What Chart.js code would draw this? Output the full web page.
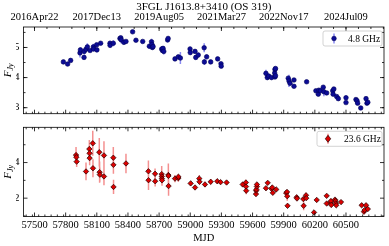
<!DOCTYPE html>
<html>
<head>
<meta charset="utf-8">
<script src="https://cdn.jsdelivr.net/npm/chart.js@4.4.1/dist/chart.umd.min.js"></script>
<style>
  html, body { margin: 0; padding: 0; background: #fff; }
  #wrap { position: relative; width: 389px; height: 246px; }
  #botChart { position: absolute; left: 0; top: 117px; }
  #topChart { position: absolute; left: 0; top: 0; }
</style>
</head>
<body>
<div id="wrap">
  <canvas id="botChart" width="389" height="129"></canvas>
  <canvas id="topChart" width="389" height="124"></canvas>
</div>
<script>
// 4.8 GHz light curve
const mjd48 = [57778, 57819, 57848, 57938, 57942, 57977, 57979, 57996, 58009, 58035,
  58067, 58069, 58099, 58101, 58137, 58227, 58228, 58259, 58323, 58331,
  58336, 58361, 58381, 58445, 58477, 58542, 58606, 58627, 58631, 58635,
  58642, 58725, 58732, 58738, 58745, 58782, 58787, 58853, 58885, 58905,
  58998, 59000, 59046, 59053, 59077, 59134, 59136, 59158, 59197, 59264,
  59296, 59298, 59729, 59742, 59756, 59783, 59813, 59816, 59821, 59816,
  59821, 59944, 59951, 59961, 59999, 59999, 60121, 60210, 60233, 60238,
  60254, 60281, 60287, 60314, 60372, 60376, 60383, 60410, 60426, 60500,
  60500, 60596, 60606, 60612, 60642, 60693, 60702, 60710];
const flux48 = [4.52, 4.45, 4.57, 4.82, 4.92, 4.67, 4.87, 4.94, 5.02, 4.90,
  5.02, 4.95, 5.09, 4.92, 5.14, 5.14, 5.07, 5.14, 5.30, 5.32,
  5.25, 5.17, 5.20, 5.52, 5.24, 5.20, 5.04, 5.19, 5.10, 5.00,
  5.03, 4.95, 4.90, 4.97, 4.87, 5.25, 5.30, 4.62, 4.69, 4.65,
  4.95, 4.83, 4.87, 4.67, 4.75, 4.99, 4.52, 4.69, 4.52, 4.62,
  4.46, 4.38, 4.14, 4.00, 4.05, 4.00, 4.15, 4.27, 4.30, 4.02,
  4.06, 3.98, 3.89, 3.81, 3.71, 3.92, 3.86, 3.56, 3.45, 3.58,
  3.56, 3.68, 3.53, 3.49, 3.56, 3.45, 3.62, 3.37, 3.30, 3.33,
  3.17, 3.27, 3.23, 3.15, 2.99, 3.30, 3.15, 3.18];
const err48 = [0.03, 0.03, 0.03, 0.15, 0.08, 0.06, 0.10, 0.08, 0.12, 0.05,
  0.10, 0.08, 0.06, 0.08, 0.05, 0.08, 0.06, 0.10, 0.08, 0.05,
  0.12, 0.06, 0.05, 0.03, 0.06, 0.06, 0.08, 0.10, 0.12, 0.08,
  0.06, 0.08, 0.06, 0.08, 0.10, 0.08, 0.08, 0.05, 0.06, 0.20,
  0.08, 0.06, 0.05, 0.08, 0.08, 0.15, 0.10, 0.08, 0.05, 0.05,
  0.05, 0.05, 0.12, 0.08, 0.06, 0.05, 0.08, 0.10, 0.05, 0.05,
  0.05, 0.08, 0.20, 0.08, 0.05, 0.05, 0.03, 0.05, 0.06, 0.05,
  0.05, 0.06, 0.15, 0.05, 0.08, 0.05, 0.06, 0.05, 0.05, 0.08,
  0.05, 0.05, 0.06, 0.05, 0.05, 0.05, 0.05, 0.05];

// 23.6 GHz light curve
const mjd236 = [57900, 57903, 57906, 57996, 58028, 58030, 58031, 58061, 58063, 58124,
  58127, 58129, 58169, 58169, 58259, 58260, 58261, 58381, 58597, 58598,
  58661, 58662, 58725, 58726, 58727, 58728, 58789, 58790, 58791, 58853,
  58885, 58886, 59004, 59046, 59087, 59089, 59142, 59197, 59260, 59292,
  59350, 59505, 59536, 59537, 59539, 59633, 59635, 59637, 59642, 59642,
  59729, 59746, 59783, 59790, 59795, 59828, 59924, 59932, 59934, 59937,
  60025, 60028, 60089, 60092, 60115, 60117, 60192, 60218, 60314, 60314,
  60352, 60355, 60358, 60394, 60399, 60402, 60406, 60452, 60651, 60693,
  60673, 60679, 60710];
const flux236 = [4.42, 4.30, 4.05, 3.50, 4.76, 4.52, 4.25, 5.08, 3.68, 4.58,
  3.46, 3.32, 4.40, 3.22, 4.27, 3.87, 2.63, 3.95, 3.51, 3.01,
  3.37, 2.95, 3.35, 3.22, 3.10, 3.00, 3.30, 3.25, 2.68, 3.10,
  3.12, 3.20, 2.83, 2.60, 3.10, 2.92, 2.77, 2.92, 2.95, 2.90,
  2.88, 2.77, 2.88, 2.65, 2.42, 2.23, 2.42, 2.49, 2.65, 2.77,
  2.56, 2.86, 2.53, 2.60, 2.30, 2.49, 2.29, 2.35, 2.11, 1.57,
  2.05, 1.98, 1.95, 1.57, 2.16, 2.00, 1.20, 1.90, 2.13, 1.70,
  1.76, 1.84, 1.62, 1.92, 1.84, 1.70, 1.60, 1.78, 1.60, 1.60,
  1.24, 1.33, 1.39];
const err236 = [0.45, 0.30, 0.30, 0.50, 0.50, 0.40, 0.40, 0.70, 0.50, 0.80,
  0.60, 0.40, 0.80, 0.50, 0.60, 0.50, 0.40, 0.55, 0.60, 0.55,
  0.30, 0.30, 0.45, 0.30, 0.30, 0.30, 0.65, 0.30, 0.55, 0.20,
  0.20, 0.15, 0.15, 0.12, 0.20, 0.15, 0.15, 0.15, 0.12, 0.12,
  0.10, 0.12, 0.15, 0.15, 0.20, 0.12, 0.10, 0.10, 0.12, 0.10,
  0.10, 0.08, 0.10, 0.10, 0.10, 0.10, 0.10, 0.08, 0.25, 0.10,
  0.08, 0.06, 0.08, 0.25, 0.15, 0.10, 0.08, 0.10, 0.08, 0.06,
  0.06, 0.06, 0.06, 0.06, 0.06, 0.06, 0.06, 0.06, 0.06, 0.06,
  0.06, 0.06, 0.05];

const mjdTicks = [57500, 57800, 58100, 58400, 58700, 59000, 59300, 59600, 59900, 60200, 60500];
const dateTicks = [57500, 58100, 58700, 59300, 59900, 60500];
const dateLabels = ['2016Apr22', '2017Dec13', '2019Aug05', '2021Mar27', '2022Nov17', '2024Jul09'];
const topFluxTicks = [3, 4, 5];
const botFluxTicks = [2, 4];

const X_MIN = 57394, X_MAX = 60866;
const serif = '"Liberation Serif", "DejaVu Serif", serif';

function range(a, b, step) {
  const out = [];
  for (let v = a; v <= b + 1e-9; v += step) out.push(Math.round(v * 100) / 100);
  return out;
}

const errorBars = {
  id: 'errorBars',
  beforeDatasetsDraw(chart) {
    const { ctx, chartArea: a, scales: { x, y } } = chart;
    ctx.save();
    ctx.beginPath();
    ctx.rect(a.left, a.top, a.right - a.left, a.bottom - a.top);
    ctx.clip();
    chart.data.datasets.forEach(ds => {
      ctx.strokeStyle = ds.errorColor;
      ctx.lineWidth = 1.5;
      ctx.beginPath();
      ds.data.forEach((pt, i) => {
        const px = x.getPixelForValue(pt.x);
        ctx.moveTo(px, y.getPixelForValue(pt.y - ds.errors[i]));
        ctx.lineTo(px, y.getPixelForValue(pt.y + ds.errors[i]));
      });
      ctx.stroke();
    });
    ctx.restore();
  }
};

// matplotlib-like frame with inward ticks
const axesFrame = {
  id: 'axesFrame',
  afterDatasetsDraw(chart, args, o) {
    const { ctx, chartArea: a, scales } = chart;
    const xs = scales.x, ys = scales.y;
    ctx.save();
    ctx.strokeStyle = '#000';
    ctx.lineWidth = 0.8;
    ctx.strokeRect(a.left, a.top, a.right - a.left, a.bottom - a.top);
    ctx.beginPath();
    const line = (x1, y1, x2, y2) => { ctx.moveTo(x1, y1); ctx.lineTo(x2, y2); };
    const inX = v => v > xs.min && v < xs.max;
    const inY = v => v > ys.min && v < ys.max;
    o.xBottom.major.filter(inX).forEach(v => { const p = xs.getPixelForValue(v); line(p, a.bottom, p, a.bottom - 4); });
    o.xBottom.minor.filter(inX).forEach(v => { const p = xs.getPixelForValue(v); line(p, a.bottom, p, a.bottom - 2); });
    o.xTop.major.filter(inX).forEach(v => { const p = xs.getPixelForValue(v); line(p, a.top, p, a.top + 4); });
    o.xTop.minor.filter(inX).forEach(v => { const p = xs.getPixelForValue(v); line(p, a.top, p, a.top + 2); });
    o.y.major.filter(inY).forEach(v => {
      const p = ys.getPixelForValue(v);
      line(a.left, p, a.left + 4, p); line(a.right, p, a.right - 4, p);
    });
    o.y.minor.filter(inY).forEach(v => {
      const p = ys.getPixelForValue(v);
      line(a.left, p, a.left + 2, p); line(a.right, p, a.right - 2, p);
    });
    ctx.stroke();
    ctx.restore();
  }
};

const yTitle = {
  id: 'yTitle',
  afterDraw(chart) {
    const { ctx, chartArea: a } = chart;
    ctx.save();
    ctx.translate(8, (a.top + a.bottom) / 2);
    ctx.rotate(-Math.PI / 2);
    ctx.fillStyle = '#000';
    ctx.textBaseline = 'middle';
    ctx.font = 'italic 11px ' + serif;
    const wF = ctx.measureText('F').width;
    ctx.font = 'italic 8px ' + serif;
    const wJ = ctx.measureText('Jy').width;
    const x0 = -(wF + wJ) / 2;
    ctx.font = 'italic 11px ' + serif;
    ctx.fillText('F', x0, 0);
    ctx.font = 'italic 8px ' + serif;
    ctx.fillText('Jy', x0 + wF, 3);
    ctx.restore();
  }
};

// title centred over the axes, like matplotlib's ax.set_title
const axesTitle = {
  id: 'axesTitle',
  afterDraw(chart, args, o) {
    const { ctx, chartArea: a } = chart;
    ctx.save();
    ctx.fillStyle = '#000';
    ctx.font = '11px ' + serif;
    ctx.textAlign = 'center';
    ctx.textBaseline = 'middle';
    ctx.fillText(o.text, (a.left + a.right) / 2, 7);
    ctx.restore();
  }
};

const boxLegend = {
  id: 'boxLegend',
  afterDraw(chart, args, o) {
    const { ctx, chartArea: a } = chart;
    const ds = chart.data.datasets[0];
    const w = o.width, h = 15;
    const left = a.right - 2 - w, top = a.top + 4;
    ctx.save();
    ctx.beginPath();
    ctx.roundRect(left, top, w, h, 2);
    ctx.fillStyle = 'rgba(255,255,255,0.8)';
    ctx.fill();
    ctx.strokeStyle = '#c8c8c8';
    ctx.lineWidth = 0.8;
    ctx.stroke();
    const mx = left + 11, my = top + h / 2;
    ctx.strokeStyle = ds.errorColor;
    ctx.lineWidth = 1.5;
    ctx.beginPath();
    ctx.moveTo(mx, my - 5); ctx.lineTo(mx, my + 5);
    ctx.stroke();
    ctx.fillStyle = ds.backgroundColor;
    ctx.strokeStyle = ds.borderColor;
    ctx.lineWidth = ds.borderWidth;
    ctx.beginPath();
    const r = ds.pointRadius;
    if (ds.pointStyle === 'rectRot') {
      ctx.moveTo(mx, my - r * 1.3); ctx.lineTo(mx + r, my); ctx.lineTo(mx, my + r * 1.3); ctx.lineTo(mx - r, my);
      ctx.closePath();
    } else {
      ctx.arc(mx, my, r, 0, Math.PI * 2);
    }
    ctx.fill();
    ctx.stroke();
    ctx.fillStyle = '#000';
    ctx.font = '9.5px ' + serif;
    ctx.textBaseline = 'middle';
    ctx.textAlign = 'left';
    ctx.fillText(ds.label, left + o.textOffset, my + 0.5);
    ctx.restore();
  }
};

function points(xs, ys) {
  return xs.map((v, i) => ({ x: v, y: ys[i] }));
}

const tickFont = { family: serif, size: 10.5 };
const xMinor = range(57360, 60900, 60);
const yAxisBase = {
  position: 'left',
  grid: { display: false, drawTicks: false },
  border: { display: false },
  ticks: { font: tickFont, color: '#000', padding: 4, callback: v => String(v) },
  afterFit: s => { s.width = 7.5; }
};

new Chart(document.getElementById('topChart'), {
  type: 'scatter',
  data: {
    datasets: [{
      label: '4.8 GHz',
      data: points(mjd48, flux48),
      errors: err48,
      errorColor: '#8a8af2',
      backgroundColor: '#0c0c96',
      borderColor: '#00005a',
      borderWidth: 0.6,
      pointRadius: 2.3,
      pointStyle: 'circle'
    }]
  },
  options: {
    responsive: false,
    animation: false,
    events: [],
    layout: { padding: { left: 16, right: 5, top: 0, bottom: 2 } },
    scales: {
      x: { type: 'linear', display: false, min: X_MIN, max: X_MAX },
      xTop: {
        type: 'linear', position: 'top', min: X_MIN, max: X_MAX,
        grid: { display: false, drawTicks: false },
        border: { display: false },
        afterBuildTicks: s => { s.ticks = dateTicks.map(v => ({ value: v })); },
        ticks: { font: tickFont, color: '#000', padding: 3, maxRotation: 0, minRotation: 0, autoSkip: false,
          callback: (v, i) => dateLabels[i] },
        afterFit: s => { s.height = 27; }
      },
      y: Object.assign({}, yAxisBase, {
        min: 2.8, max: 5.68,
        afterBuildTicks: s => { s.ticks = topFluxTicks.map(v => ({ value: v })); }
      })
    },
    plugins: {
      legend: { display: false },
      tooltip: { enabled: false },
      axesTitle: { text: '3FGL J1613.8+3410 (OS 319)' },
      axesFrame: {
        xBottom: { major: mjdTicks, minor: xMinor },
        xTop: { major: dateTicks, minor: range(57380, 60860, 120) },
        y: { major: topFluxTicks, minor: range(2.5, 6, 0.5) }
      },
      boxLegend: { width: 59, textOffset: 25 }
    }
  },
  plugins: [errorBars, axesFrame, yTitle, axesTitle, boxLegend]
});

new Chart(document.getElementById('botChart'), {
  type: 'scatter',
  data: {
    datasets: [{
      label: '23.6 GHz',
      data: points(mjd236, flux236),
      errors: err236,
      errorColor: '#f49090',
      backgroundColor: '#dc0000',
      borderColor: '#200000',
      borderWidth: 0.7,
      pointRadius: 2.7,
      pointStyle: 'rectRot'
    }]
  },
  options: {
    responsive: false,
    animation: false,
    events: [],
    layout: { padding: { left: 16, right: 5, top: 5, bottom: 0 } },
    scales: {
      x: {
        type: 'linear', position: 'bottom', min: X_MIN, max: X_MAX,
        grid: { display: false, drawTicks: false },
        border: { display: false },
        afterBuildTicks: s => { s.ticks = mjdTicks.map(v => ({ value: v })); },
        ticks: { font: tickFont, color: '#000', padding: 2, maxRotation: 0, minRotation: 0, autoSkip: false,
          callback: v => String(v) },
        title: { display: true, text: 'MJD', color: '#000', font: { family: serif, size: 10.5 }, padding: { top: 0, bottom: 1 } },
        afterFit: s => { s.height = 29.5; }
      },
      y: Object.assign({}, yAxisBase, {
        min: 0.97, max: 5.98,
        afterBuildTicks: s => { s.ticks = botFluxTicks.map(v => ({ value: v })); }
      })
    },
    plugins: {
      legend: { display: false },
      tooltip: { enabled: false },
      axesFrame: {
        xBottom: { major: mjdTicks, minor: xMinor },
        xTop: { major: mjdTicks, minor: xMinor },
        y: { major: [2, 4, 6], minor: [1, 3, 5] }
      },
      boxLegend: { width: 65, textOffset: 27 }
    }
  },
  plugins: [errorBars, axesFrame, yTitle, boxLegend]
});
</script>
</body>
</html>
